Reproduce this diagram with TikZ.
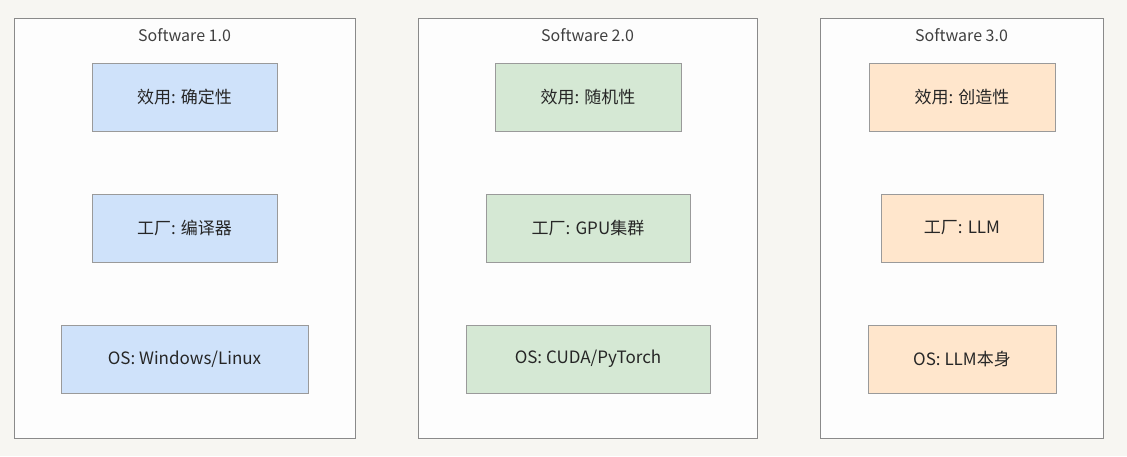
\documentclass[tikz,border=0pt]{standalone}
\usepackage{fontspec}
\setmainfont{Noto Sans CJK SC}
\definecolor{bg}{HTML}{F7F6F2}
\definecolor{panel}{HTML}{FDFDFD}
\definecolor{pb}{HTML}{8A8A8A}
\definecolor{bl}{HTML}{CFE2FA}
\definecolor{gr}{HTML}{D5E8D4}
\definecolor{or}{HTML}{FFE6CC}
\definecolor{bb}{HTML}{9A9A9A}
\begin{document}
\begin{tikzpicture}[x=1pt,y=-1pt,
  panel/.style={draw=pb,fill=panel,line width=0.8pt},
  title/.style={font=\fontsize{16}{18}\selectfont,text=black!75},
  box/.style={draw=bb,line width=0.8pt,font=\fontsize{17}{20}\selectfont,text=black!85}]
\fill[bg] (0,0) rectangle (1127,456);
\useasboundingbox (0,0) rectangle (1127,456);
\draw[panel] (14,18) rectangle (355,438);
\draw[panel] (418,18) rectangle (757,438);
\draw[panel] (820,18) rectangle (1103,438);
\node[title] (t1) at (184.5,35) {Software 1.0};
\node[title] (t2) at (587.5,35) {Software 2.0};
\node[title] (t3) at (961.5,35) {Software 3.0};
\node[box,fill=bl,minimum width=185pt,minimum height=68pt] (a1) at (184.5,97) {效用: 确定性};
\node[box,fill=bl,minimum width=185pt,minimum height=68pt] (a2) at (184.5,228) {工厂: 编译器};
\node[box,fill=bl,minimum width=247pt,minimum height=68pt] (a3) at (184.5,359) {OS: Windows/Linux};
\node[box,fill=gr,minimum width=186pt,minimum height=68pt] (b1) at (588,97) {效用: 随机性};
\node[box,fill=gr,minimum width=204pt,minimum height=68pt] (b2) at (588,228) {工厂: GPU集群};
\node[box,fill=gr,minimum width=244pt,minimum height=68pt] (b3) at (588,359) {OS: CUDA/PyTorch};
\node[box,fill=or,minimum width=186pt,minimum height=68pt] (c1) at (962,97) {效用: 创造性};
\node[box,fill=or,minimum width=162pt,minimum height=68pt] (c2) at (962,228) {工厂: LLM};
\node[box,fill=or,minimum width=188pt,minimum height=68pt] (c3) at (962,359) {OS: LLM本身};
\end{tikzpicture}
\end{document}
